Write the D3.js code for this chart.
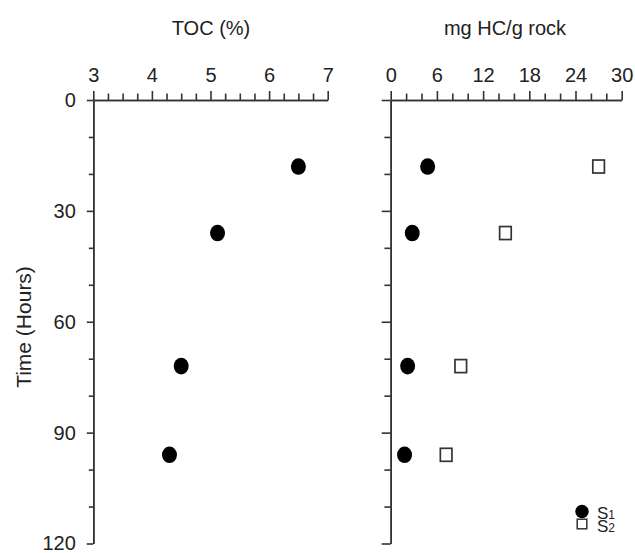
<!DOCTYPE html>
<html>
<head>
<meta charset="utf-8">
<script src="https://cdn.jsdelivr.net/npm/d3@7"></script>
<style>
  body { margin: 0; background: #fff; }
  svg text { font-family: "Liberation Sans", Arial, sans-serif; fill: #222; }
</style>
</head>
<body>
<div id="chart"></div>
<script>
// data
var hours = [18, 36, 72, 96];
var toc = [6.5, 5.12, 4.5, 4.3];
var s1 = [4.8, 2.8, 2.2, 1.8];
var s2 = [27, 14.9, 9.1, 7.2];

var hourTicks = [0, 30, 60, 90, 120];
var tocTicks = [3, 4, 5, 6, 7];
var hcTicks = [0, 6, 12, 18, 24, 30];

var width = 635, height = 553;

var svg = d3.select("#chart").append("svg")
    .attr("width", width)
    .attr("height", height);

var y = d3.scaleLinear().domain([0, 120]).range([100, 543.5]);
var xToc = d3.scaleLinear().domain([3, 7]).range([93.3, 327.7]);
var xHc = d3.scaleLinear().domain([0, 30]).range([390.7, 621.7]);

function styleAxis(g) {
  g.selectAll("path, line").attr("stroke", "#333").attr("stroke-width", 1.6);
  g.selectAll("text").attr("fill", "#222").style("font-size", "20px")
    .style("font-family", "Liberation Sans, Arial, sans-serif");
}

// top axes (minor first, then major)
function topAxis(x, ticks, step) {
  var minor = d3.range(x.domain()[0], x.domain()[1] + 1e-9, step)
      .filter(function(v) { return ticks.indexOf(Math.round(v * 1000) / 1000) < 0; });
  svg.append("g")
      .attr("transform", "translate(0," + y(0) + ")")
      .call(d3.axisTop(x).tickValues(minor).tickFormat("").tickSize(6.5).tickSizeOuter(0))
      .call(styleAxis);
  svg.append("g")
      .attr("transform", "translate(0," + y(0) + ")")
      .call(d3.axisTop(x).tickValues(ticks).tickFormat(d3.format("d"))
        .tickSize(9).tickPadding(9).tickSizeOuter(0))
      .call(styleAxis);
}
topAxis(xToc, tocTicks, 0.25);
topAxis(xHc, hcTicks, 2);

// left axes
function leftAxis(x0, major, minor, labels) {
  var minorVals = d3.range(0, 121, 10).filter(function(v) { return v % 30 != 0; });
  svg.append("g")
      .attr("transform", "translate(" + x0 + ",0)")
      .call(d3.axisLeft(y).tickValues(minorVals).tickFormat("").tickSize(minor).tickSizeOuter(0))
      .call(styleAxis);
  svg.append("g")
      .attr("transform", "translate(" + x0 + ",0)")
      .call(d3.axisLeft(y).tickValues(hourTicks).tickSize(major).tickPadding(11)
        .tickFormat(labels ? d3.format("d") : "").tickSizeOuter(0))
      .call(styleAxis);
}
leftAxis(xToc(3), 6.5, 4.5, true);
leftAxis(xHc(0), 9, 6.3, false);

// titles
svg.append("text").attr("x", 211).attr("y", 35).attr("text-anchor", "middle")
    .style("font-size", "20px").text("TOC (%)");
svg.append("text").attr("x", 505).attr("y", 35).attr("text-anchor", "middle")
    .style("font-size", "20px").text("mg HC/g rock");
svg.append("text")
    .attr("transform", "translate(31," + 327 + ") rotate(-90)")
    .attr("text-anchor", "middle")
    .style("font-size", "21px").text("Time (Hours)");

// points
var idx = d3.range(hours.length);

svg.append("g").selectAll("ellipse")
    .data(idx).join("ellipse")
    .attr("cx", function(i) { return xToc(toc[i]); })
    .attr("cy", function(i) { return y(hours[i]); })
    .attr("rx", 7.5).attr("ry", 8.3)
    .attr("fill", "#000");

svg.append("g").selectAll("ellipse")
    .data(idx).join("ellipse")
    .attr("cx", function(i) { return xHc(s1[i]); })
    .attr("cy", function(i) { return y(hours[i]); })
    .attr("rx", 7.5).attr("ry", 8.3)
    .attr("fill", "#000");

svg.append("g").selectAll("rect")
    .data(idx).join("rect")
    .attr("x", function(i) { return xHc(s2[i]) - 5.8; })
    .attr("y", function(i) { return y(hours[i]) - 6.5; })
    .attr("width", 11.6).attr("height", 13)
    .attr("fill", "#fff").attr("stroke", "#333").attr("stroke-width", 1.7);

// legend
var leg = svg.append("g").attr("transform", "translate(582,511.5)");
leg.append("circle").attr("r", 6.7).attr("fill", "#000");
leg.append("rect").attr("x", -4.8).attr("y", 7.7).attr("width", 9.6).attr("height", 9.6)
    .attr("fill", "#fff").attr("stroke", "#333").attr("stroke-width", 1.5);
var t1 = leg.append("text").attr("x", 15).attr("y", 7).style("font-size", "17px");
t1.append("tspan").text("S");
t1.append("tspan").style("font-size", "12px").text("1");
var t2 = leg.append("text").attr("x", 15).attr("y", 20).style("font-size", "17px");
t2.append("tspan").text("S");
t2.append("tspan").style("font-size", "12px").text("2");
</script>
</body>
</html>
